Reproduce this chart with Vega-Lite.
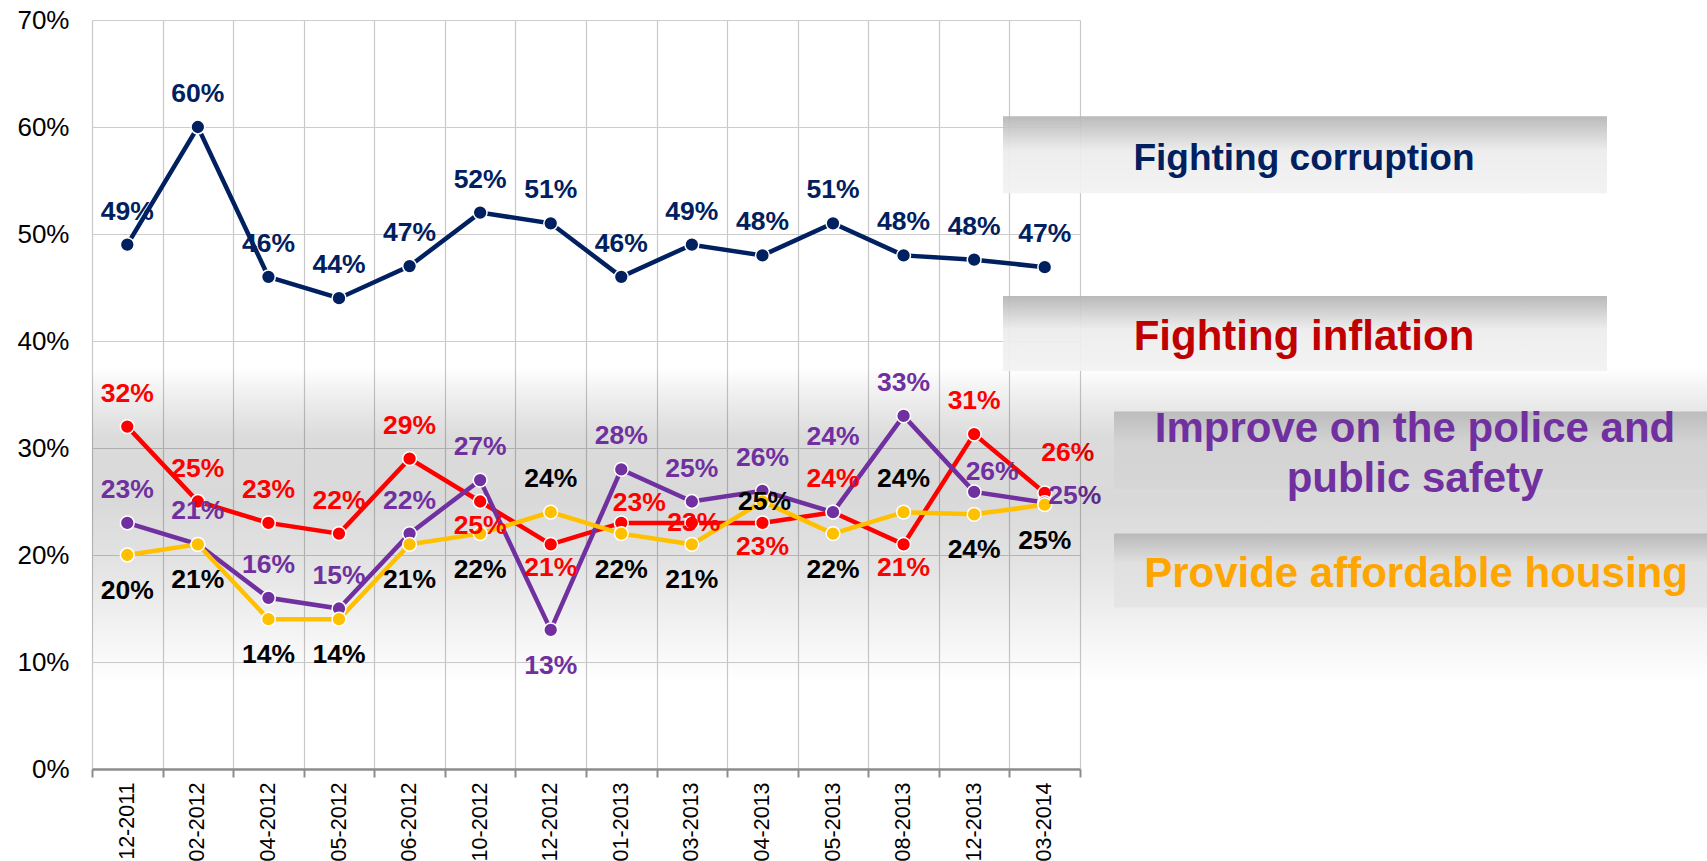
{
  "$schema": "https://vega.github.io/schema/vega-lite/v6.json",
  "background": "white",
  "padding": {"left": 16, "top": 7, "right": 0, "bottom": 0},
  "bounds": "flush",
  "spacing": 0,
  "config": {"view": {"stroke": null}, "font": "Liberation Sans"},
  "hconcat": [
    {
      "width": 988,
      "height": 749,
      "layer": [
        {
          "data": {"values": [{}]},
          "mark": {"type": "rect", "fill": {"gradient": "linear", "x1": 0, "y1": 0, "x2": 0, "y2": 1, "stops": [
            {"offset": 0, "color": "rgba(0,0,0,0)"},
            {"offset": 0.08, "color": "rgba(0,0,0,0.06)"},
            {"offset": 0.22, "color": "rgba(0,0,0,0.14)"},
            {"offset": 0.42, "color": "rgba(0,0,0,0.15)"},
            {"offset": 0.62, "color": "rgba(0,0,0,0.11)"},
            {"offset": 0.82, "color": "rgba(0,0,0,0.05)"},
            {"offset": 1, "color": "rgba(0,0,0,0)"}
          ]}},
          "encoding": {
            "y": {"datum": 0.375, "type": "quantitative",
              "scale": {"domain": [0, 0.7], "nice": false},
              "axis": {
                "title": null, "values": [0, 0.1, 0.2, 0.3, 0.4, 0.5, 0.6, 0.7], "format": ".0%",
                "labelFontSize": 26, "labelColor": "#000000", "labelPadding": 23,
                "ticks": false, "domain": false, "grid": true, "gridColor": "#cccccc", "gridWidth": 1.2
              }},
            "y2": {"datum": 0.08}
          }
        },
        {
          "data": {"values": [
            {"date": "12-2011", "series": "Fighting corruption", "value": 0.49, "pos": "above"},
            {"date": "02-2012", "series": "Fighting corruption", "value": 0.60, "pos": "above"},
            {"date": "04-2012", "series": "Fighting corruption", "value": 0.46, "pos": "above"},
            {"date": "05-2012", "series": "Fighting corruption", "value": 0.44, "pos": "above"},
            {"date": "06-2012", "series": "Fighting corruption", "value": 0.47, "pos": "above"},
            {"date": "10-2012", "series": "Fighting corruption", "value": 0.52, "pos": "above"},
            {"date": "12-2012", "series": "Fighting corruption", "value": 0.51, "pos": "above"},
            {"date": "01-2013", "series": "Fighting corruption", "value": 0.46, "pos": "above"},
            {"date": "03-2013", "series": "Fighting corruption", "value": 0.49, "pos": "above"},
            {"date": "04-2013", "series": "Fighting corruption", "value": 0.48, "pos": "above"},
            {"date": "05-2013", "series": "Fighting corruption", "value": 0.51, "pos": "above"},
            {"date": "08-2013", "series": "Fighting corruption", "value": 0.48, "pos": "above"},
            {"date": "12-2013", "series": "Fighting corruption", "value": 0.476, "pos": "above"},
            {"date": "03-2014", "series": "Fighting corruption", "value": 0.469, "pos": "above"},
            {"date": "12-2011", "series": "Fighting inflation", "value": 0.32, "pos": "above"},
            {"date": "02-2012", "series": "Fighting inflation", "value": 0.25, "pos": "above"},
            {"date": "04-2012", "series": "Fighting inflation", "value": 0.23, "pos": "above"},
            {"date": "05-2012", "series": "Fighting inflation", "value": 0.22, "pos": "above"},
            {"date": "06-2012", "series": "Fighting inflation", "value": 0.29, "pos": "above"},
            {"date": "10-2012", "series": "Fighting inflation", "value": 0.25, "pos": "lowmid"},
            {"date": "12-2012", "series": "Fighting inflation", "value": 0.21, "pos": "lowmid"},
            {"date": "01-2013", "series": "Fighting inflation", "value": 0.23, "pos": "upright"},
            {"date": "03-2013", "series": "Fighting inflation", "value": 0.23, "pos": "mid"},
            {"date": "04-2013", "series": "Fighting inflation", "value": 0.23, "pos": "lowmid"},
            {"date": "05-2013", "series": "Fighting inflation", "value": 0.24, "pos": "above"},
            {"date": "08-2013", "series": "Fighting inflation", "value": 0.21, "pos": "lowmid"},
            {"date": "12-2013", "series": "Fighting inflation", "value": 0.313, "pos": "above"},
            {"date": "03-2014", "series": "Fighting inflation", "value": 0.258, "pos": "upright_hi"},
            {"date": "12-2011", "series": "Improve on the police and public safety", "value": 0.23, "pos": "above"},
            {"date": "02-2012", "series": "Improve on the police and public safety", "value": 0.21, "pos": "above"},
            {"date": "04-2012", "series": "Improve on the police and public safety", "value": 0.16, "pos": "above"},
            {"date": "05-2012", "series": "Improve on the police and public safety", "value": 0.15, "pos": "above"},
            {"date": "06-2012", "series": "Improve on the police and public safety", "value": 0.22, "pos": "above"},
            {"date": "10-2012", "series": "Improve on the police and public safety", "value": 0.27, "pos": "above"},
            {"date": "12-2012", "series": "Improve on the police and public safety", "value": 0.13, "pos": "below"},
            {"date": "01-2013", "series": "Improve on the police and public safety", "value": 0.28, "pos": "above"},
            {"date": "03-2013", "series": "Improve on the police and public safety", "value": 0.25, "pos": "above"},
            {"date": "04-2013", "series": "Improve on the police and public safety", "value": 0.26, "pos": "above"},
            {"date": "05-2013", "series": "Improve on the police and public safety", "value": 0.24, "pos": "high"},
            {"date": "08-2013", "series": "Improve on the police and public safety", "value": 0.33, "pos": "above"},
            {"date": "12-2013", "series": "Improve on the police and public safety", "value": 0.259, "pos": "upright"},
            {"date": "03-2014", "series": "Improve on the police and public safety", "value": 0.249, "pos": "right"},
            {"date": "12-2011", "series": "Provide affordable housing", "value": 0.20, "pos": "below"},
            {"date": "02-2012", "series": "Provide affordable housing", "value": 0.21, "pos": "below"},
            {"date": "04-2012", "series": "Provide affordable housing", "value": 0.14, "pos": "below"},
            {"date": "05-2012", "series": "Provide affordable housing", "value": 0.14, "pos": "below"},
            {"date": "06-2012", "series": "Provide affordable housing", "value": 0.21, "pos": "below"},
            {"date": "10-2012", "series": "Provide affordable housing", "value": 0.22, "pos": "below"},
            {"date": "12-2012", "series": "Provide affordable housing", "value": 0.24, "pos": "above"},
            {"date": "01-2013", "series": "Provide affordable housing", "value": 0.22, "pos": "below"},
            {"date": "03-2013", "series": "Provide affordable housing", "value": 0.21, "pos": "below"},
            {"date": "04-2013", "series": "Provide affordable housing", "value": 0.25, "pos": "mid"},
            {"date": "05-2013", "series": "Provide affordable housing", "value": 0.22, "pos": "below"},
            {"date": "08-2013", "series": "Provide affordable housing", "value": 0.24, "pos": "above"},
            {"date": "12-2013", "series": "Provide affordable housing", "value": 0.238, "pos": "below"},
            {"date": "03-2014", "series": "Provide affordable housing", "value": 0.247, "pos": "below"}
          ]},
          "encoding": {
            "x": {
              "field": "date", "type": "ordinal", "bandPosition": 0.5,
              "scale": {"type": "band", "paddingInner": 0, "paddingOuter": 0,
                "domain": ["12-2011","02-2012","04-2012","05-2012","06-2012","10-2012","12-2012","01-2013","03-2013","04-2013","05-2013","08-2013","12-2013","03-2014"]},
              "axis": {
                "title": null, "labelAngle": 270, "labelFontSize": 21.5, "labelColor": "#000000",
                "labelPadding": 5, "tickBand": "extent", "ticks": true, "tickSize": 8,
                "tickColor": "#8c8c8c", "tickWidth": 2, "domainColor": "#8c8c8c", "domainWidth": 2.5,
                "grid": true, "gridColor": "#c8c8c8", "gridWidth": 1.2
              }
            },
            "y": {
              "field": "value", "type": "quantitative",
              "scale": {"domain": [0, 0.7], "nice": false},
              "axis": {
                "title": null, "values": [0, 0.1, 0.2, 0.3, 0.4, 0.5, 0.6, 0.7], "format": ".0%",
                "labelFontSize": 26, "labelColor": "#000000", "labelPadding": 23,
                "ticks": false, "domain": false, "grid": true, "gridColor": "#cccccc", "gridWidth": 1.2
              }
            }
          },
          "layer": [
            {
              "mark": {"type": "line", "strokeWidth": 4.5},
              "encoding": {
                "color": {"field": "series", "type": "nominal", "legend": null,
                  "scale": {"domain": ["Fighting corruption", "Fighting inflation", "Improve on the police and public safety", "Provide affordable housing"],
                    "range": ["#002060", "#FF0000", "#7030A0", "#FFC000"]}}
              }
            },
            {
              "mark": {"type": "point", "filled": true, "size": 190, "opacity": 1, "stroke": "white", "strokeWidth": 1.5},
              "encoding": {
                "color": {"field": "series", "type": "nominal", "legend": null,
                  "scale": {"domain": ["Fighting corruption", "Fighting inflation", "Improve on the police and public safety", "Provide affordable housing"],
                    "range": ["#002060", "#FF0000", "#7030A0", "#FFC000"]}}
              }
            },
            {
              "encoding": {
                "text": {"field": "value", "type": "quantitative", "format": ".0%"},
                "color": {
                  "condition": {"test": "datum.series === 'Provide affordable housing'", "value": "#000000"},
                  "field": "series", "type": "nominal", "legend": null,
                  "scale": {"domain": ["Fighting corruption", "Fighting inflation", "Improve on the police and public safety", "Provide affordable housing"],
                    "range": ["#002060", "#FF0000", "#7030A0", "#FFC000"]}
                }
              },
              "layer": [
                {"transform": [{"filter": "datum.pos === 'above'"}], "mark": {"type": "text", "fontSize": 26.5, "fontWeight": "bold", "dy": -33}},
                {"transform": [{"filter": "datum.pos === 'below'"}], "mark": {"type": "text", "fontSize": 26.5, "fontWeight": "bold", "dy": 36}},
                {"transform": [{"filter": "datum.pos === 'lowmid'"}], "mark": {"type": "text", "fontSize": 26.5, "fontWeight": "bold", "dy": 24}},
                {"transform": [{"filter": "datum.pos === 'upright'"}], "mark": {"type": "text", "fontSize": 26.5, "fontWeight": "bold", "dx": 18, "dy": -20}},
                {"transform": [{"filter": "datum.pos === 'upright_hi'"}], "mark": {"type": "text", "fontSize": 26.5, "fontWeight": "bold", "dx": 23, "dy": -40}},
                {"transform": [{"filter": "datum.pos === 'high'"}], "mark": {"type": "text", "fontSize": 26.5, "fontWeight": "bold", "dy": -75}},
                {"transform": [{"filter": "datum.pos === 'right'"}], "mark": {"type": "text", "fontSize": 26.5, "fontWeight": "bold", "dx": 30, "dy": -7}},
                {"transform": [{"filter": "datum.pos === 'mid'"}], "mark": {"type": "text", "fontSize": 26.5, "fontWeight": "bold", "dx": 2, "dy": 0}}
              ]
            }
          ]
        }
      ]
    },
    {
      "width": 628,
      "height": 749,
      "data": {"values": [{}]},
      "layer": [
        {
          "mark": {"type": "rect", "fill": {"gradient": "linear", "x1": 0, "y1": 0, "x2": 0, "y2": 1, "stops": [
            {"offset": 0, "color": "rgba(0,0,0,0)"},
            {"offset": 0.08, "color": "rgba(0,0,0,0.06)"},
            {"offset": 0.22, "color": "rgba(0,0,0,0.14)"},
            {"offset": 0.42, "color": "rgba(0,0,0,0.15)"},
            {"offset": 0.62, "color": "rgba(0,0,0,0.11)"},
            {"offset": 0.82, "color": "rgba(0,0,0,0.05)"},
            {"offset": 1, "color": "rgba(0,0,0,0)"}
          ]}},
          "encoding": {
            "y": {"datum": 0.375, "type": "quantitative", "scale": {"domain": [0, 0.7], "nice": false}, "axis": null},
            "y2": {"datum": 0.08}
          }
        },
        {
          "mark": {"type": "rect", "opacity": 0.92, "fill": {"gradient": "linear", "x1": 0, "y1": 0, "x2": 0, "y2": 1, "stops": [
            {"offset": 0, "color": "#b4b4b4"}, {"offset": 0.45, "color": "#ececec"}, {"offset": 1, "color": "#f2f2f2"}]}},
          "encoding": {
            "x": {"datum": -77, "type": "quantitative", "scale": {"domain": [0, 628], "nice": false}, "axis": null},
            "x2": {"datum": 527},
            "y": {"datum": 0.610, "type": "quantitative"},
            "y2": {"datum": 0.538}
          }
        },
        {
          "mark": {"type": "rect", "opacity": 0.92, "fill": {"gradient": "linear", "x1": 0, "y1": 0, "x2": 0, "y2": 1, "stops": [
            {"offset": 0, "color": "#b4b4b4"}, {"offset": 0.45, "color": "#ececec"}, {"offset": 1, "color": "#f2f2f2"}]}},
          "encoding": {
            "x": {"datum": -77, "type": "quantitative"},
            "x2": {"datum": 527},
            "y": {"datum": 0.442, "type": "quantitative"},
            "y2": {"datum": 0.372}
          }
        },
        {
          "mark": {"type": "rect", "fill": {"gradient": "linear", "x1": 0, "y1": 0, "x2": 0, "y2": 1, "stops": [
            {"offset": 0, "color": "#bcbcbc"}, {"offset": 0.4, "color": "#d3d3d3"}, {"offset": 1, "color": "#d6d6d6"}]}},
          "encoding": {
            "x": {"datum": 34, "type": "quantitative"},
            "x2": {"datum": 628},
            "y": {"datum": 0.334, "type": "quantitative"},
            "y2": {"datum": 0.262}
          }
        },
        {
          "mark": {"type": "rect", "fill": {"gradient": "linear", "x1": 0, "y1": 0, "x2": 0, "y2": 1, "stops": [
            {"offset": 0, "color": "#b9b9b9"}, {"offset": 0.4, "color": "#e0e0e0"}, {"offset": 1, "color": "#e5e5e5"}]}},
          "encoding": {
            "x": {"datum": 34, "type": "quantitative"},
            "x2": {"datum": 628},
            "y": {"datum": 0.220, "type": "quantitative"},
            "y2": {"datum": 0.151}
          }
        },
        {
          "mark": {"type": "text", "text": "Fighting corruption", "font": "Liberation Sans", "fontSize": 37, "fontWeight": "bold", "color": "#002060", "align": "center", "baseline": "alphabetic"},
          "encoding": {"x": {"datum": 224, "type": "quantitative"}, "y": {"datum": 0.5594, "type": "quantitative"}}
        },
        {
          "mark": {"type": "text", "text": "Fighting inflation", "font": "Liberation Sans", "fontSize": 42, "fontWeight": "bold", "color": "#C00000", "align": "center", "baseline": "alphabetic"},
          "encoding": {"x": {"datum": 224, "type": "quantitative"}, "y": {"datum": 0.3912, "type": "quantitative"}}
        },
        {
          "mark": {"type": "text", "text": "Improve on the police and", "font": "Liberation Sans", "fontSize": 42, "fontWeight": "bold", "color": "#7030A0", "align": "center", "baseline": "alphabetic"},
          "encoding": {"x": {"datum": 335, "type": "quantitative"}, "y": {"datum": 0.3055, "type": "quantitative"}}
        },
        {
          "mark": {"type": "text", "text": "public safety", "font": "Liberation Sans", "fontSize": 42, "fontWeight": "bold", "color": "#7030A0", "align": "center", "baseline": "alphabetic"},
          "encoding": {"x": {"datum": 335, "type": "quantitative"}, "y": {"datum": 0.2588, "type": "quantitative"}}
        },
        {
          "mark": {"type": "text", "text": "Provide affordable housing", "font": "Liberation Sans", "fontSize": 42, "fontWeight": "bold", "color": "#FFA500", "align": "center", "baseline": "alphabetic"},
          "encoding": {"x": {"datum": 336, "type": "quantitative"}, "y": {"datum": 0.170, "type": "quantitative"}}
        }
      ]
    }
  ]
}
